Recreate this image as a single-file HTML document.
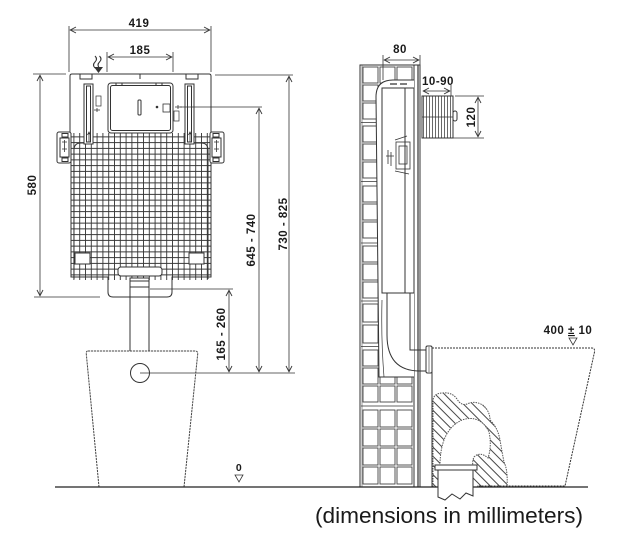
<!DOCTYPE html>
<html><head><meta charset="utf-8"><style>
html,body{margin:0;padding:0;background:#fff;}
svg{display:block}
text{font-family:"Liberation Sans",Arial,sans-serif;fill:#1a1a1a}
.d{font-weight:bold;font-size:11.5px;letter-spacing:0.5px}
</style></head><body>
<svg width="618" height="535" viewBox="0 0 618 535" xmlns="http://www.w3.org/2000/svg">
<defs>
<marker id="a" viewBox="0 0 8 8" refX="7.5" refY="4" markerWidth="8" markerHeight="8" markerUnits="userSpaceOnUse" orient="auto-start-reverse"><path d="M1.5,1 L7.2,4 L1.5,7" fill="none" stroke="#333" stroke-width="0.9"/></marker>
<pattern id="g" x="71" y="134" width="5.8" height="5.75" patternUnits="userSpaceOnUse"><path d="M2.9,0 V5.75 M0,2.9 H5.8" stroke="#333" stroke-width="0.9" fill="none"/></pattern>
<pattern id="h" width="6.5" height="6.5" patternUnits="userSpaceOnUse" patternTransform="rotate(-45)"><line x1="3" y1="0" x2="3" y2="6.5" stroke="#333" stroke-width="0.9"/></pattern>
<pattern id="v" x="422" y="0" width="3" height="10" patternUnits="userSpaceOnUse"><line x1="1.5" y1="0" x2="1.5" y2="10" stroke="#444" stroke-width="0.8"/></pattern>
<g id="r16" fill="#fff" stroke="#444" stroke-width="0.9"><rect x="363" y="0" width="15" height="16"/><rect x="380" y="0" width="15" height="16"/><rect x="397" y="0" width="15" height="16"/></g>
<g id="r18" fill="#fff" stroke="#444" stroke-width="0.9"><rect x="363" y="0" width="15" height="18"/><rect x="380" y="0" width="15" height="18"/><rect x="397" y="0" width="15" height="18"/></g>
<g id="r17" fill="#fff" stroke="#444" stroke-width="0.9"><rect x="363" y="0" width="15" height="17"/><rect x="380" y="0" width="15" height="17"/><rect x="397" y="0" width="15" height="17"/></g>
</defs>

<!-- ============ LEFT (front view) ============ -->
<g fill="none" stroke="#333" stroke-width="1">
  <rect x="71" y="133" width="140" height="147" fill="url(#g)" stroke="none"/>
  <path d="M71,133 V277 H108 V292 Q108,297 113,297 H167 Q172,297 172,292 V277 H211 V133"/>
  <path d="M74,279 V150 Q74,143 81,143 H88 M208,279 V150 Q208,143 201,143 H194"/>
  <rect x="118" y="267" width="44" height="9" rx="3" fill="#fff"/>
  <rect x="75" y="253" width="15" height="11" fill="#fff"/>
  <rect x="189" y="253" width="15" height="11" fill="#fff"/>
  <path d="M70,133 V76 Q70,74 72,74 H209 Q211,74 211,76 V133"/>
  <rect x="80" y="74" width="12" height="5"/>
  <rect x="186" y="74" width="12" height="5"/>
  <line x1="140" y1="74" x2="140" y2="79"/>
  <rect x="84" y="84" width="9" height="60" fill="#fff"/>
  <rect x="86.5" y="86" width="4" height="56"/>
  <rect x="185" y="84" width="9" height="60" fill="#fff"/>
  <rect x="187.5" y="86" width="4" height="56"/>
  <rect x="108" y="83" width="65" height="50" rx="3" fill="#fff"/>
  <rect x="110.5" y="85.5" width="60" height="45" rx="2"/>
  <rect x="116" y="83" width="6" height="2.5"/>
  <rect x="156" y="83" width="6" height="2.5"/>
  <rect x="138" y="100" width="3" height="15" rx="1"/>
  <circle cx="157" cy="107" r="0.8" fill="#333"/>
  <rect x="96" y="96" width="5" height="10" stroke-width="0.7"/>
  <rect x="174" y="111" width="5" height="10" stroke-width="0.7"/>
  <path d="M94,110 h6 M97,108 v4 M175,107 h7 M178,105 v4" stroke-width="0.8"/>
  <rect x="163" y="104" width="7" height="8" stroke-width="0.8"/>
  <path d="M89,132 v10 M87.5,135 l1.5,-3 l1.5,3 M190,132 v10 M188.5,135 l1.5,-3 l1.5,3" stroke-width="0.8"/>
  <rect x="57" y="132" width="14" height="31" rx="2" fill="#fff"/>
  <rect x="60" y="138" width="9" height="19"/>
  <rect x="62" y="133.5" width="6" height="3.5"/>
  <rect x="62" y="158" width="6" height="3.5"/>
  <path d="M62,142 h5 M64.5,140 v12 M62,149 h5" stroke-width="0.8"/>
  <rect x="210" y="132" width="14" height="31" rx="2" fill="#fff"/>
  <rect x="212" y="138" width="9" height="19"/>
  <rect x="213" y="133.5" width="6" height="3.5"/>
  <rect x="213" y="158" width="6" height="3.5"/>
  <path d="M214,142 h5 M216.5,140 v12 M214,149 h5" stroke-width="0.8"/>
  <rect x="130" y="278" width="19" height="9" fill="#fff"/>
  <line x1="130" y1="281" x2="149" y2="281"/>
  <path d="M130,287 V351 M149,287 V351"/>
  <path d="M88,351 H195 Q198,351 197.7,354 L184,487 M99,487 L86.3,354 Q86,351 88,351" stroke="#444" stroke-dasharray="2.2 0.8"/>
  <circle cx="140" cy="373" r="9.5" fill="#fff"/>
  <path d="M95,56 q3,3 0,6 q-3,3 0,6 M99.5,56 q3,3 0,6 q-3,3 0,6" stroke-width="1.1"/>
  <path d="M94,67 L103,67 L98.5,73 Z" fill="#333" stroke="none"/>
</g>

<g fill="none" stroke="#333" stroke-width="0.8">
  <line x1="69" y1="26" x2="69" y2="72"/>
  <line x1="211" y1="26" x2="211" y2="72"/>
  <line x1="70" y1="30" x2="210" y2="30" marker-start="url(#a)" marker-end="url(#a)"/>
  <line x1="107" y1="52" x2="107" y2="72"/>
  <line x1="173" y1="52" x2="173" y2="72"/>
  <line x1="108" y1="57" x2="172" y2="57" marker-start="url(#a)" marker-end="url(#a)"/>
  <line x1="33" y1="74" x2="66" y2="74"/>
  <line x1="34" y1="297" x2="100" y2="297"/>
  <line x1="40" y1="75" x2="40" y2="296" marker-start="url(#a)" marker-end="url(#a)"/>
  <line x1="180" y1="107" x2="262" y2="107"/>
  <line x1="259" y1="108" x2="259" y2="372" marker-start="url(#a)" marker-end="url(#a)"/>
  <line x1="215" y1="75" x2="293" y2="75"/>
  <line x1="289" y1="76" x2="289" y2="372" marker-start="url(#a)" marker-end="url(#a)"/>
  <line x1="150" y1="289" x2="233" y2="289"/>
  <line x1="229" y1="290" x2="229" y2="372" marker-start="url(#a)" marker-end="url(#a)"/>
  <line x1="140" y1="373" x2="295" y2="373"/>
  <path d="M235,475 H243 L239,482 Z"/>
</g>
<text class="d" x="139" y="27" text-anchor="middle">419</text>
<text class="d" x="140" y="54" text-anchor="middle">185</text>
<text class="d" transform="translate(36,185) rotate(-90)" text-anchor="middle">580</text>
<text class="d" transform="translate(255,240) rotate(-90)" text-anchor="middle">645 - 740</text>
<text class="d" transform="translate(287,224) rotate(-90)" text-anchor="middle">730 - 825</text>
<text class="d" transform="translate(225,334) rotate(-90)" text-anchor="middle">165 - 260</text>
<text class="d" x="239" y="471" text-anchor="middle" style="font-size:10.5px">0</text>

<!-- ============ RIGHT (side view) ============ -->
<rect x="360" y="65" width="54" height="422" fill="#fff" stroke="#333" stroke-width="1"/>
<line x1="362" y1="65" x2="362" y2="487" stroke="#555" stroke-width="0.6"/>
<use href="#r16" y="67"/><use href="#r16" y="85"/><use href="#r16" y="103"/>
<use href="#r16" y="126"/><use href="#r16" y="144"/><use href="#r16" y="162"/>
<use href="#r16" y="186"/><use href="#r16" y="204"/><use href="#r16" y="222"/>
<use href="#r16" y="246"/><use href="#r16" y="264"/><use href="#r16" y="282"/>
<use href="#r18" y="304"/><use href="#r18" y="325"/>
<use href="#r16" y="350"/><use href="#r16" y="368"/><use href="#r16" y="386"/>
<use href="#r17" y="410"/><use href="#r17" y="429"/><use href="#r17" y="448"/><use href="#r17" y="467"/>
<g fill="none" stroke="#333" stroke-width="0.7">
  <line x1="361" y1="122.5" x2="413" y2="122.5"/><line x1="361" y1="181.5" x2="413" y2="181.5"/>
  <line x1="361" y1="243" x2="413" y2="243"/><line x1="361" y1="301" x2="413" y2="301"/>
  <line x1="361" y1="346.5" x2="413" y2="346.5"/><line x1="361" y1="406" x2="413" y2="406"/>
</g>
<rect x="414" y="65" width="6" height="422" fill="#fff" stroke="#333" stroke-width="1"/>
<line x1="418" y1="65" x2="418" y2="487" stroke="#333" stroke-width="1.2"/>
<g fill="none" stroke="#333" stroke-width="1">
  <path d="M414,80 H393 Q376,80 376,97 L379,377 H414" fill="#fff"/>
  <rect x="382" y="88" width="32" height="205" fill="#fff"/>
  <line x1="405" y1="88" x2="405" y2="293"/>
  <path d="M390,84 H397 M400,84 H407" stroke-width="1.2"/>
  <rect x="396" y="142" width="14" height="27" stroke-width="0.8"/>
  <rect x="399" y="146" width="8" height="18" stroke-width="0.8"/>
  <path d="M388,150 v14 M391,152 v14 M386,156 h8 M395,140 l12,-4 M395,171 l14,3" stroke-width="0.8"/>
  <path d="M387,293 V335 Q387,371 420,371 H427"/>
  <path d="M410,293 V350 H427"/>
  <path d="M382,300 Q381,340 384,377" stroke-width="0.7"/>
  <rect x="426" y="346" width="6" height="27" rx="1.5" fill="#fff"/>
  <line x1="429" y1="347" x2="429" y2="372" stroke-width="0.6"/>
  <rect x="422" y="96" width="31" height="42" fill="url(#v)"/>
  <line x1="422" y1="117" x2="453" y2="117" stroke-width="0.7"/>
  <rect x="453" y="111" width="4" height="10" rx="2" fill="#fff"/>
</g>
<g fill="none" stroke="#333" stroke-width="1">
  <path d="M433,487 V400 Q434,393 443,393 Q452,392 457,399 Q461,406 467,404 Q476,400 484,406 Q490,412 490,420 Q498,428 500,440 Q502,452 504,462 Q508,470 507,487 Z" fill="url(#h)" stroke="#555" stroke-dasharray="1.5 1"/>
  <path d="M440,466 Q440,430 462,420 Q480,414 489,432 Q492,446 488,458 Q480,451 474,457 Q472,461 473,466 Z" fill="#fff" stroke="#555" stroke-dasharray="1.5 1"/>
  <path d="M432,348 H592 Q595,348 594.5,352 L565,486 H477" stroke="#333" stroke-dasharray="2 1"/>
  <line x1="432" y1="348" x2="432" y2="487"/>
</g>
<line x1="55" y1="487" x2="588" y2="487" stroke="#222" stroke-width="1.3"/>
<g fill="#fff" stroke="#333" stroke-width="1">
  <path d="M438,470 V497 L445,500 L452,494 L460,499 L466,493 L473,496 V470 Z"/>
  <rect x="435" y="465" width="42" height="5"/>
</g>
<g fill="none" stroke="#333" stroke-width="0.8">
  <line x1="383" y1="55" x2="383" y2="80"/>
  <line x1="420" y1="55" x2="420" y2="66"/>
  <line x1="384" y1="60" x2="419" y2="60" marker-start="url(#a)" marker-end="url(#a)"/>
  <line x1="451" y1="85" x2="451" y2="96"/>
  <line x1="423" y1="91" x2="450" y2="91" marker-start="url(#a)" marker-end="url(#a)"/>
  <line x1="455" y1="96" x2="484" y2="96"/>
  <line x1="453" y1="138" x2="484" y2="138"/>
  <line x1="478" y1="97" x2="478" y2="137" marker-start="url(#a)" marker-end="url(#a)"/>
  <path d="M569,338 H577 L573,345 Z"/>
</g>
<text class="d" x="400" y="53" text-anchor="middle">80</text>
<text class="d" x="438" y="85" text-anchor="middle">10-90</text>
<text class="d" transform="translate(475,117) rotate(-90)" text-anchor="middle">120</text>
<text class="d" x="568" y="334" text-anchor="middle">400 <tspan text-decoration="underline">±</tspan> 10</text>

<text x="315" y="523" style="font-size:22.5px" textLength="268" lengthAdjust="spacingAndGlyphs">(dimensions in millimeters)</text>
</svg>
</body></html>
